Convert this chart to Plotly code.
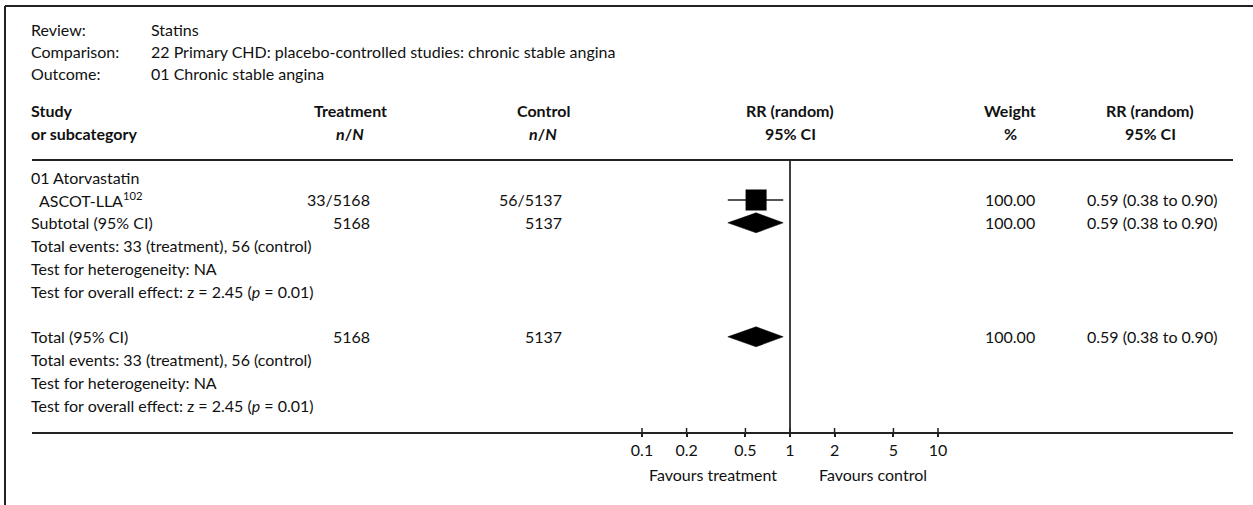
import plotly.graph_objects as go

# ---- data ----
review = "Statins"
comparison = "22 Primary CHD: placebo-controlled studies: chronic stable angina"
outcome = "01 Chronic stable angina"
group_name = "01 Atorvastatin"

studies = ["ASCOT-LLA<sup>102</sup>"]
treat_events = [33]
treat_total = [5168]
ctrl_events = [56]
ctrl_total = [5137]
study_rr = [0.59]
study_lo = [0.38]
study_hi = [0.90]
study_weight = [100.00]

subtotal_rr, subtotal_lo, subtotal_hi = 0.59, 0.38, 0.90
subtotal_weight = 100.00
total_rr, total_lo, total_hi = 0.59, 0.38, 0.90
total_weight = 100.00
z_value, p_value = 2.45, 0.01

tick_vals = [0.1, 0.2, 0.5, 1, 2, 5, 10]
tick_text = ["0.1", "0.2", "0.5", "1", "2", "5", "10"]

# ---- layout geometry (pixels) ----
W, H = 1253, 505
PL, PR = 32, 1233          # plot area left/right
AXIS_Y = 432               # bottom rule / RR axis
NULL_X = 790               # pixel of RR = 1
DECADE = 148               # pixels per decade on the RR scale
FONT = "Lato, 'Open Sans', sans-serif"
FS = 16

x_lo = -(NULL_X - PL) / DECADE
x_hi = (PR - NULL_X) / DECADE


def px(x):
    return (x - PL) / (PR - PL)


def py(y):
    return (AXIS_Y - y) / AXIS_Y


annotations = []


def text(x, y, s, anchor="left", size=FS, bold=False):
    if bold:
        s = f"<b>{s}</b>"
    shift = {"left": -3, "right": 3, "center": 0}[anchor]
    annotations.append(dict(
        x=px(x), y=py(y), xref="paper", yref="paper", text=s,
        showarrow=False, xanchor=anchor, yanchor="middle", xshift=shift,
        font=dict(family=FONT, size=size, color="#111"),
    ))


# row positions
ROW = 22.8
y_review, y_comp, y_out = 30, 52, 73
y_head1, y_head2 = 110, 133
y_rule = 160
y_group = 177
y_study = 200
y_sub = y_study + ROW
y_sub_te, y_sub_het, y_sub_z = y_sub + ROW, y_sub + 2 * ROW, y_sub + 3 * ROW
y_tot = y_sub_z + 2 * ROW
y_tot_te, y_tot_het, y_tot_z = y_tot + ROW, y_tot + 2 * ROW, y_tot + 3 * ROW

# column positions
X_LEFT = 32
X_VAL = 152
X_TRT = 369
X_TRT_H = 350
X_CTL = 561
X_CTL_H = 543
X_RR_H = 790
X_WT = 1010
X_CI = 1088
X_CI_H = 1150

# description block
text(X_LEFT, y_review, "Review:")
text(X_VAL, y_review, review)
text(X_LEFT, y_comp, "Comparison:")
text(X_VAL, y_comp, comparison)
text(X_LEFT, y_out, "Outcome:")
text(X_VAL, y_out, outcome)

# column headers
nN = "<i>n</i>/<i>N</i>"
text(X_LEFT, y_head1, "Study", bold=True)
text(X_LEFT, y_head2, "or subcategory", bold=True)
text(X_TRT_H, y_head1, "Treatment", "center", bold=True)
text(X_TRT_H, y_head2, nN, "center", bold=True)
text(X_CTL_H, y_head1, "Control", "center", bold=True)
text(X_CTL_H, y_head2, nN, "center", bold=True)
text(X_RR_H, y_head1, "RR (random)", "center", bold=True)
text(X_RR_H, y_head2, "95% CI", "center", bold=True)
text(X_WT, y_head1, "Weight", "center", bold=True)
text(X_WT, y_head2, "%", "center", bold=True)
text(X_CI_H, y_head1, "RR (random)", "center", bold=True)
text(X_CI_H, y_head2, "95% CI", "center", bold=True)


def ci_text(rr, lo, hi):
    return f"{rr:.2f} ({lo:.2f} to {hi:.2f})"


# study rows
text(X_LEFT, y_group, group_name)
for i, name in enumerate(studies):
    yy = y_study + i * ROW
    text(X_LEFT + 8, yy, name)
    text(X_TRT, yy, f"{treat_events[i]}/{treat_total[i]}", "right")
    text(X_CTL, yy, f"{ctrl_events[i]}/{ctrl_total[i]}", "right")
    text(X_WT, yy, f"{study_weight[i]:.2f}", "center")
    text(X_CI, yy, ci_text(study_rr[i], study_lo[i], study_hi[i]))

te_line = (f"Total events: {sum(treat_events)} (treatment), "
           f"{sum(ctrl_events)} (control)")
het_line = "Test for heterogeneity: NA"
z_line = f"Test for overall effect: z = {z_value:.2f} (<i>p</i> = {p_value:.2f})"

text(X_LEFT, y_sub, "Subtotal (95% CI)")
text(X_TRT, y_sub, f"{sum(treat_total)}", "right")
text(X_CTL, y_sub, f"{sum(ctrl_total)}", "right")
text(X_WT, y_sub, f"{subtotal_weight:.2f}", "center")
text(X_CI, y_sub, ci_text(subtotal_rr, subtotal_lo, subtotal_hi))
text(X_LEFT, y_sub_te, te_line)
text(X_LEFT, y_sub_het, het_line)
text(X_LEFT, y_sub_z, z_line)

text(X_LEFT, y_tot, "Total (95% CI)")
text(X_TRT, y_tot, f"{sum(treat_total)}", "right")
text(X_CTL, y_tot, f"{sum(ctrl_total)}", "right")
text(X_WT, y_tot, f"{total_weight:.2f}", "center")
text(X_CI, y_tot, ci_text(total_rr, total_lo, total_hi))
text(X_LEFT, y_tot_te, te_line)
text(X_LEFT, y_tot_het, het_line)
text(X_LEFT, y_tot_z, z_line)

# axis captions
text(713, 474, "Favours treatment", "center")
text(873, 474, "Favours control", "center")

fig = go.Figure()

# study CI lines and squares
for i in range(len(studies)):
    yy = y_study + i * ROW
    fig.add_trace(go.Scatter(
        x=[study_lo[i], study_hi[i]], y=[yy, yy], mode="lines",
        line=dict(color="#555", width=2), hoverinfo="skip"))
    fig.add_trace(go.Scatter(
        x=[study_rr[i]], y=[yy], mode="markers",
        marker=dict(symbol="square", size=21, color="#000"),
        hoverinfo="skip"))


def diamond(rr, lo, hi, yc, half=10):
    fig.add_trace(go.Scatter(
        x=[lo, rr, hi, rr, lo], y=[yc, yc - half, yc, yc + half, yc],
        mode="lines", fill="toself", fillcolor="#000",
        line=dict(color="#000", width=0.5), hoverinfo="skip"))


diamond(subtotal_rr, subtotal_lo, subtotal_hi, y_sub)
diamond(total_rr, total_lo, total_hi, y_tot)

shapes = [
    # line of no effect
    dict(type="line", xref="x", yref="y", x0=1, x1=1, y0=y_rule, y1=AXIS_Y,
         line=dict(color="#000", width=1.5)),
    # header rule
    dict(type="line", xref="paper", yref="paper", x0=0, x1=1,
         y0=py(y_rule), y1=py(y_rule), line=dict(color="#222", width=2)),
    # frame: top and left edges
    dict(type="line", xref="paper", yref="paper", x0=px(5), x1=px(W),
         y0=py(6), y1=py(6), line=dict(color="#222", width=2)),
    dict(type="line", xref="paper", yref="paper", x0=px(5), x1=px(5),
         y0=py(6), y1=py(H), line=dict(color="#222", width=2)),
]
# upper half of each tick mark (the axis draws the lower half)
for tv in tick_vals:
    shapes.append(dict(type="line", xref="x", yref="y", x0=tv, x1=tv,
                       y0=AXIS_Y - 4, y1=AXIS_Y,
                       line=dict(color="#222", width=1.5)))

fig.update_layout(
    width=W, height=H,
    margin=dict(l=PL, r=W - PR, t=0, b=H - AXIS_Y, pad=0),
    paper_bgcolor="#fff", plot_bgcolor="#fff",
    showlegend=False,
    annotations=annotations,
    shapes=shapes,
    xaxis=dict(
        type="log", range=[x_lo, x_hi], tickvals=tick_vals, ticktext=tick_text,
        showline=True, linecolor="#222", linewidth=2, ticks="outside",
        ticklen=3, tickwidth=1.5, tickcolor="#222", showgrid=False,
        zeroline=False, tickfont=dict(family=FONT, size=FS, color="#111"),
        fixedrange=True,
    ),
    yaxis=dict(range=[AXIS_Y, 0], visible=False, showgrid=False,
               zeroline=False, fixedrange=True),
)

fig.write_html("out.html")
